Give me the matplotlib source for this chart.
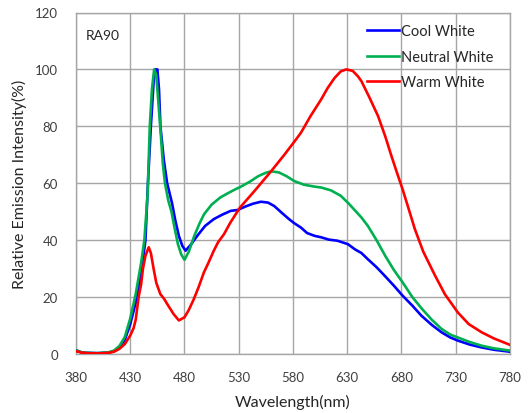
import matplotlib
matplotlib.use("Agg")
import matplotlib.pyplot as plt

plt.rcParams['font.family'] = ['Lato', 'DejaVu Sans']

cool_wl = [380, 385, 390, 400, 410, 415, 420, 425, 430, 435, 440, 444, 446.3, 449, 451.6, 453, 455,
           456.5, 457.8, 461, 464, 468.5, 471.5, 474.8, 478, 481, 486, 491.7, 499, 507, 515, 522.6,
           529, 536, 543, 550.4, 557, 562.7, 570, 576, 581, 587.4, 593, 600, 606, 613, 621, 630.6,
           637, 643, 649, 657, 664.5, 673, 681, 690, 698.5, 708, 717, 725, 732, 743, 754, 765, 780]
cool_val = [1.3, 0.6, 0.4, 0.3, 0.5, 1.0, 2.3, 5.0, 10.5, 18, 28, 40, 60, 80, 96, 100, 100,
            93, 80, 68, 60, 53, 47, 41.5, 38, 36.3, 38.5, 41.5, 45, 47.4, 49, 50.3,
            50.6, 51.8, 52.8, 53.5, 53.2, 52, 49.5, 47.5, 46, 44.4, 42.5, 41.5, 41, 40.2, 39.8, 38.6,
            36.8, 35.5, 33.3, 30.5, 27.5, 24, 20.5, 17, 13.4, 10.2, 7.6, 5.8, 4.7, 3.3, 2.3, 1.5, 0.8]

neutral_wl = [380, 385, 390, 400, 410, 415, 420, 425, 430, 435, 440, 443, 446, 448, 450, 452, 454,
              456, 458, 460, 462, 465, 468, 471, 474, 477, 480, 484, 489, 494, 498, 505, 513, 520,
              527, 532, 540, 548, 555, 560, 567, 574, 581, 590, 600, 606, 615, 624, 631, 637, 643,
              649, 657, 665, 673, 681, 690, 699, 708, 717, 725, 732, 743, 754, 765, 780]
neutral_val = [1.3, 0.6, 0.4, 0.3, 0.6, 1.2, 2.8, 6, 12.5, 21, 32, 40, 56, 80, 93, 100, 98,
               88, 78, 67, 60, 54, 50, 44, 38.5, 35, 33.1, 36, 41.5, 46, 49.1, 52.5, 55, 56.5,
               57.9, 58.8, 60.5, 62.5, 63.7, 64.2, 63.8, 62.5, 60.8, 59.5, 58.8, 58.5, 57.5, 55.6, 53, 50.5, 48,
               45, 40, 34.5, 29.5, 25.2, 20, 15.8, 12, 8.8, 6.8, 5.8, 4.2, 2.9, 2.0, 1.2]

warm_wl = [380, 385, 390, 400, 410, 415, 420, 425, 430, 433, 435, 437.7, 440, 441.7, 444, 447, 449,
           451.6, 454, 457.8, 461, 465, 470, 474.8, 480, 484, 488.6, 493, 497.9, 502, 507, 511, 516.4,
           522, 531, 545, 560, 572, 583, 587.4, 596, 606, 612, 618.3, 624, 629, 635, 640, 643, 650,
           658.4, 665, 670.7, 676, 681, 687, 692.3, 700, 711, 720, 731.9, 742, 754, 765, 780]
warm_val = [1.0, 0.5, 0.3, 0.2, 0.4, 0.8, 1.8, 3.5, 6.5, 9, 12, 20, 24.5, 30, 34.5, 37.5, 35.5,
            29.8, 25, 21, 19.5, 17, 14, 11.8, 12.9, 15.5, 19.3, 23.5, 28.7, 32, 36.3, 39.3, 42.1,
            46, 51.4, 57.5, 64.3, 70, 75.5, 77.8, 83.5, 89.5, 93.5, 97, 99.3, 100, 99.5, 97.5, 95.9, 90.5,
            83.6, 76.5, 69.6, 63.5, 57.9, 50.5, 43.9, 36, 27.5, 21, 14.6, 10.5, 7.6, 5.5, 3.2]

x_ticks = [380, 430, 480, 530, 580, 630, 680, 730, 780]
y_ticks = [0, 20, 40, 60, 80, 100, 120]

fig = plt.figure(figsize=(5.3, 4.14), dpi=100)
ax = fig.add_axes([76/530, 1 - 355/414, 434/530, 341.5/414])

ax.plot(cool_wl, cool_val, color='#0000ff', lw=1.9, label='Cool White', zorder=3)
ax.plot(neutral_wl, neutral_val, color='#00b050', lw=1.9, label='Neutral White', zorder=3)
ax.plot(warm_wl, warm_val, color='#ff0000', lw=1.9, label='Warm White', zorder=3)

ax.set_xlim(380, 780)
ax.set_ylim(0, 120)
ax.set_xticks(x_ticks)
ax.set_yticks(y_ticks)
ax.grid(True, color='#a6a6a6', lw=1.0)
ax.set_axisbelow(True)
for s in ax.spines.values():
    s.set_color('#a6a6a6')
    s.set_linewidth(1.0)
ax.tick_params(length=0, labelsize=9.5, colors='#404040', pad=12)
ax.tick_params(axis='y', pad=13)

ax.set_xlabel('Wavelength(nm)', fontsize=11.5, color='#262626', labelpad=8)
ax.set_ylabel('Relative Emission Intensity(%)', fontsize=11.5, color='#262626', labelpad=6)

ax.text(0.023, 0.934, 'RA90', transform=ax.transAxes, fontsize=10, color='#262626',
        va='center', ha='left')

leg = ax.legend(loc='upper right', bbox_to_anchor=(0.985, 0.995), frameon=False, fontsize=10.5,
                handlelength=2.2, handletextpad=0.1, labelspacing=0.78, borderaxespad=0.3)
for t in leg.get_texts():
    t.set_color('#262626')

fig.savefig('out.png', dpi=100)
